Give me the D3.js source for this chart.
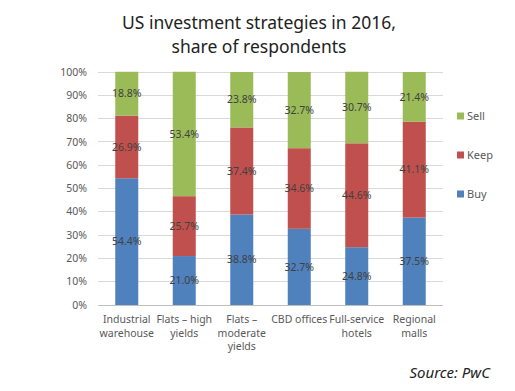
<!DOCTYPE html>
<html><head><meta charset="utf-8">
<script src="https://cdn.jsdelivr.net/npm/d3@7"></script>
<style>body{margin:0;background:#fff}svg{display:block}text{font-family:"Noto Sans",sans-serif}</style>
</head><body>
<script>
const categories = [["Industrial","warehouse"],["Flats – high","yields"],["Flats –","moderate","yields"],["CBD offices"],["Full-service","hotels"],["Regional","malls"]];
const buy  = [54.4, 21.0, 38.8, 32.7, 24.8, 37.5];
const keep = [26.9, 25.7, 37.4, 34.6, 44.6, 41.1];
const sell = [18.8, 53.4, 23.8, 32.7, 30.7, 21.4];
const seriesNames = ["Buy","Keep","Sell"];
const colors = ["#4F81BD","#C0504D","#9BBB59"];
const yTicks = [0,10,20,30,40,50,60,70,80,90,100];

const W=515,H=391;
const m={l:98,r:72,t:72,b:86};
const svg=d3.select("body").append("svg").attr("width",W).attr("height",H);
const rows=categories.map((c,i)=>({i,Buy:buy[i],Keep:keep[i],Sell:sell[i]}));
const stack=d3.stack().keys(seriesNames)(rows);
const x=d3.scaleBand().domain(d3.range(categories.length)).range([m.l,W-m.r]).paddingInner(0.6).paddingOuter(0.3);
const y=d3.scaleLinear().domain([0,100]).range([H-m.b,m.t]);

// title
svg.append("text").attr("x",259).attr("y",29).attr("text-anchor","middle").attr("font-size",17.5).attr("fill","#222").text("US investment strategies in 2016,");
svg.append("text").attr("x",259).attr("y",53).attr("text-anchor","middle").attr("font-size",17.5).attr("fill","#222").text("share of respondents");

// grid
svg.append("g").selectAll("line").data(yTicks).join("line")
  .attr("x1",m.l).attr("x2",W-m.r).attr("y1",d=>y(d)).attr("y2",d=>y(d))
  .attr("stroke",d=>d===0?"#bfbfbf":"#d9d9d9").attr("stroke-width",1).attr("shape-rendering","crispEdges");

// y labels
svg.append("g").selectAll("text").data(yTicks).join("text")
  .attr("x",87).attr("y",d=>y(d)).attr("dy","0.35em").attr("text-anchor","end")
  .attr("font-size",10.5).attr("fill","#595959").text(d=>d+"%");

// bars
const g=svg.append("g");
stack.forEach((s,k)=>{
  g.append("g").attr("fill",colors[k]).selectAll("rect").data(s).join("rect")
   .attr("x",(d,i)=>x(i)).attr("width",x.bandwidth())
   .attr("y",d=>y(d[1])).attr("height",d=>y(d[0])-y(d[1]));
});
stack.forEach((s,k)=>{
  g.append("g").selectAll("text").data(s).join("text")
   .attr("x",(d,i)=>x(i)+x.bandwidth()/2).attr("y",d=>y((d[0]+d[1])/2)).attr("dy","0.35em")
   .attr("text-anchor","middle").attr("font-size",10.5).attr("fill","#404040")
   .text(d=>(d[1]-d[0]).toFixed(1)+"%");
});

// x labels
categories.forEach((lines,i)=>{
  const t=svg.append("text").attr("text-anchor","middle").attr("font-size",10.5).attr("fill","#595959");
  lines.forEach((ln,j)=>t.append("tspan").attr("x",x(i)+x.bandwidth()/2).attr("y",323+j*13.5).text(ln));
});

// legend
const leg=svg.append("g");
["Sell","Keep","Buy"].forEach((n,j)=>{
  const k=seriesNames.indexOf(n);
  const cy=116+j*39;
  leg.append("rect").attr("x",457).attr("y",cy-3.5).attr("width",7).attr("height",7).attr("fill",colors[k]);
  leg.append("text").attr("x",467).attr("y",cy).attr("dy","0.35em").attr("font-size",11).attr("fill","#595959").text(n);
});

// source
svg.append("text").attr("x",490).attr("y",378).attr("text-anchor","end").attr("font-size",15).attr("font-style","italic").attr("fill","#222").text("Source: PwC");
</script>
</body></html>
